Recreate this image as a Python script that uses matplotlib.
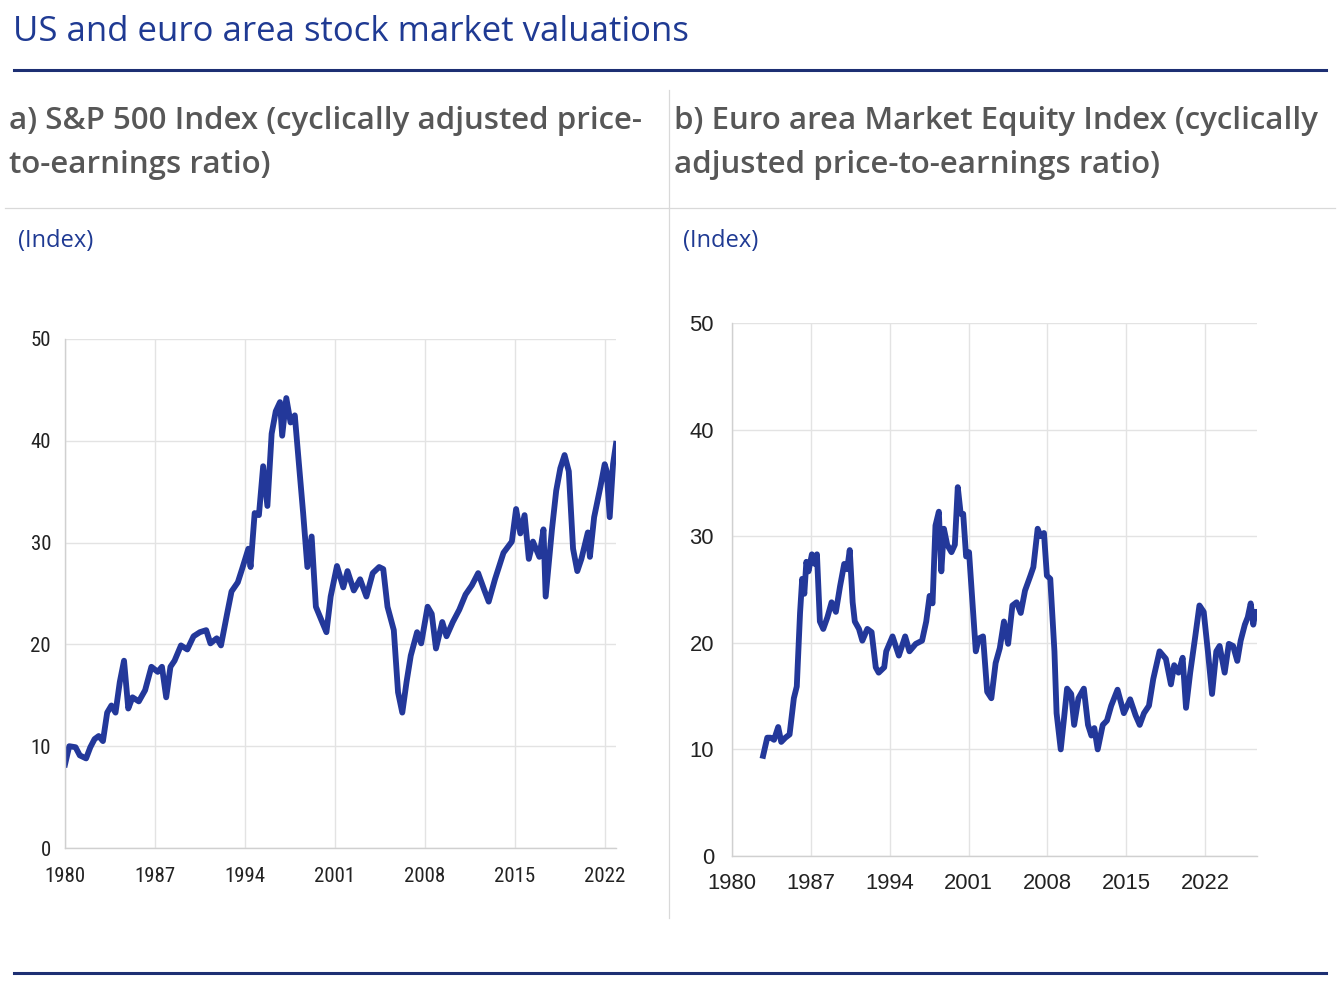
import matplotlib
matplotlib.use("Agg")
import matplotlib.pyplot as plt
from matplotlib.lines import Line2D

# --- data ---
us_years = [1980.00, 1980.33, 1980.82, 1981.15, 1981.64, 1981.97, 1982.30, 1982.62, 1982.95,
            1983.28, 1983.61, 1983.93, 1984.26, 1984.59, 1984.92, 1985.25, 1985.74, 1986.23,
            1986.72, 1987.21, 1987.54, 1987.87, 1988.20, 1988.52, 1989.02, 1989.51, 1990.00,
            1990.49, 1990.98, 1991.31, 1991.80, 1992.13, 1992.62, 1992.95, 1993.44, 1993.77,
            1994.26, 1994.43, 1994.75, 1995.08, 1995.41, 1995.74, 1996.07, 1996.39, 1996.72,
            1996.89, 1997.21, 1997.54, 1997.87, 1998.20, 1998.52, 1998.85, 1999.18, 1999.51,
            2000.00, 2000.33, 2000.66, 2001.15, 2001.64, 2001.97, 2002.46, 2002.95, 2003.44,
            2003.93, 2004.43, 2004.75, 2005.08, 2005.57, 2005.90, 2006.23, 2006.56, 2006.89,
            2007.38, 2007.70, 2008.20, 2008.52, 2008.85, 2009.34, 2009.67, 2010.16, 2010.66,
            2011.15, 2011.64, 2012.13, 2012.62, 2012.95, 2013.44, 2014.10, 2014.75, 2015.08,
            2015.41, 2015.74, 2016.07, 2016.39, 2016.89, 2017.21, 2017.38, 2017.87, 2018.20,
            2018.52, 2018.85, 2019.18, 2019.51, 2019.84, 2020.16, 2020.66, 2020.82, 2021.15,
            2021.64, 2021.97, 2022.13, 2022.36, 2022.62, 2022.85]
us_cape = [8.2, 10.0, 9.9, 9.1, 8.8, 9.9, 10.7, 11.0, 10.5,
           13.3, 14.0, 13.3, 16.3, 18.4, 13.7, 14.8, 14.4, 15.5,
           17.8, 17.3, 17.8, 14.8, 17.8, 18.4, 19.9, 19.5, 20.8,
           21.2, 21.4, 20.1, 20.6, 19.9, 23.1, 25.2, 26.1, 27.4,
           29.4, 27.6, 32.9, 32.7, 37.5, 33.6, 40.7, 42.9, 43.8,
           40.5, 44.2, 41.8, 42.5, 37.6, 32.9, 27.6, 30.6, 23.7,
           22.2, 21.2, 24.7, 27.7, 25.6, 27.2, 25.3, 26.4, 24.7,
           27.0, 27.6, 27.4, 23.7, 21.4, 15.3, 13.3, 16.3, 18.9,
           21.2, 20.1, 23.7, 23.0, 19.6, 22.2, 20.8, 22.2, 23.4,
           24.9, 25.8, 27.0, 25.3, 24.2, 26.4, 29.0, 30.1, 33.3,
           30.9, 32.7, 28.4, 30.1, 28.6, 31.3, 24.7, 31.3, 35.1,
           37.3, 38.6, 37.0, 29.4, 27.2, 28.4, 31.0, 28.6, 32.5,
           35.5, 37.7, 37.0, 32.5, 37.7, 39.7]

ea_years = [1982.76, 1983.13, 1983.43, 1983.73, 1984.10, 1984.37, 1984.74, 1985.11, 1985.49,
            1985.75, 1986.04, 1986.23, 1986.42, 1986.60, 1986.79, 1987.09, 1987.35, 1987.54,
            1987.80, 1988.10, 1988.47, 1988.84, 1989.22, 1989.59, 1989.96, 1990.22, 1990.45,
            1990.71, 1990.90, 1991.27, 1991.57, 1992.01, 1992.39, 1992.76, 1993.02, 1993.51,
            1993.69, 1994.25, 1994.81, 1995.37, 1995.75, 1996.31, 1996.87, 1997.24, 1997.54,
            1997.80, 1998.06, 1998.36, 1998.58, 1998.81, 1999.10, 1999.48, 1999.78, 2000.04,
            2000.30, 2000.52, 2000.78, 2001.04, 2001.27, 2001.64, 2001.90, 2002.28, 2002.65,
            2003.02, 2003.40, 2003.77, 2004.14, 2004.51, 2004.89, 2005.26, 2005.63, 2006.01,
            2006.49, 2006.75, 2007.13, 2007.39, 2007.69, 2007.95, 2008.25, 2008.62, 2008.81,
            2009.18, 2009.48, 2009.74, 2010.11, 2010.37, 2010.75, 2011.23, 2011.60, 2011.90,
            2012.16, 2012.46, 2012.91, 2013.28, 2013.66, 2014.22, 2014.78, 2015.34, 2015.82,
            2016.19, 2016.57, 2017.01, 2017.39, 2017.95, 2018.51, 2018.96, 2019.25, 2019.63,
            2020.00, 2020.30, 2020.67, 2021.12, 2021.49, 2021.87, 2022.24, 2022.61, 2022.99,
            2023.28, 2023.73, 2024.10, 2024.48, 2024.85, 2025.15, 2025.52, 2025.78, 2026.04,
            2026.27, 2026.46, 2026.64]
ea_cape = [9.4, 11.1, 11.1, 10.9, 12.1, 10.7, 11.1, 11.4, 14.8,
           15.9, 22.8, 26.0, 24.6, 27.6, 26.7, 28.3, 27.4, 28.3,
           22.0, 21.3, 22.4, 23.8, 22.9, 25.3, 27.4, 26.9, 28.7,
           23.8, 22.0, 21.3, 20.2, 21.3, 21.0, 17.7, 17.2, 17.7,
           19.2, 20.6, 18.8, 20.6, 19.2, 19.9, 20.2, 22.0, 24.4,
           23.7, 31.0, 32.3, 26.7, 30.7, 29.2, 28.5, 29.2, 34.6,
           32.1, 32.1, 28.1, 28.5, 24.9, 19.2, 20.4, 20.6, 15.4,
           14.8, 18.1, 19.5, 22.0, 19.9, 23.5, 23.8, 22.8, 24.9,
           26.3, 27.1, 30.7, 30.0, 30.3, 26.3, 26.0, 19.2, 13.4,
           10.0, 13.0, 15.7, 15.2, 12.3, 14.8, 15.7, 12.3, 11.3,
           12.0, 10.0, 12.3, 12.7, 14.1, 15.6, 13.4, 14.7, 13.2,
           12.3, 13.4, 14.1, 16.6, 19.2, 18.5, 16.1, 17.9, 17.2,
           18.6, 13.9, 17.2, 20.6, 23.5, 22.9, 19.2, 15.2, 19.2,
           19.7, 17.2, 19.9, 19.7, 18.3, 20.2, 21.7, 22.4, 23.7,
           21.7, 22.9, 22.9]

year_ticks = [1980, 1987, 1994, 2001, 2008, 2015, 2022]
value_ticks = [0, 10, 20, 30, 40, 50]

title = "US and euro area stock market valuations"
sub_a = "a) S&P 500 Index (cyclically adjusted price-\nto-earnings ratio)"
sub_b = "b) Euro area Market Equity Index (cyclically\nadjusted price-to-earnings ratio)"
unit = "(Index)"

NAVY = "#1f3a93"
LINE = "#23389a"
GREY_TXT = "#575757"
GRID = "#e3e3e3"
OPEN = ["Open Sans", "DejaVu Sans"]

W, H = 1341, 985
fig = plt.figure(figsize=(W / 100, H / 100), dpi=100)
fig.patch.set_facecolor("white")


def fx(px):
    return px / W


def fy(py):
    return 1 - py / H


# header / frame decoration
fig.text(fx(13), fy(32), title, fontsize=25, color=NAVY, family=OPEN, va="center", ha="left")
fig.add_artist(Line2D([fx(14), fx(1326)], [fy(70), fy(70)], color="#1d2f73", lw=2.2))
fig.add_artist(Line2D([fx(14), fx(1326)], [fy(973), fy(973)], color="#1d2f73", lw=2.2))
fig.add_artist(Line2D([fx(5), fx(1335)], [fy(208), fy(208)], color="#d9d9d9", lw=0.9))
fig.add_artist(Line2D([fx(669), fx(669)], [fy(90), fy(918)], color="#d9d9d9", lw=0.9))

for x0, txt in ((9, sub_a), (674, sub_b)):
    fig.text(fx(x0), fy(143), txt, fontsize=22.5, color=GREY_TXT, weight="semibold",
             family=OPEN, va="center", ha="left", linespacing=1.58)
for x0 in (18, 683):
    fig.text(fx(x0), fy(241), unit, fontsize=17, color=NAVY, family=OPEN,
             va="center", ha="left")


def style(ax, xmax, tick_family, tick_size, stretch):
    ax.set_xlim(1980, xmax)
    ax.set_ylim(0, 50)
    ax.set_xticks(year_ticks)
    ax.set_yticks(value_ticks)
    ax.grid(True, color=GRID, lw=1.0)
    ax.set_axisbelow(True)
    for s in ("top", "right"):
        ax.spines[s].set_visible(False)
    for s in ("left", "bottom"):
        ax.spines[s].set_color("#d0d0d0")
        ax.spines[s].set_linewidth(1.0)
    ax.tick_params(length=0, labelsize=tick_size, colors="#222222")
    for lab in ax.get_xticklabels() + ax.get_yticklabels():
        lab.set_family(tick_family)
        lab.set_stretch(stretch)


ax1 = fig.add_axes([fx(65), fy(848), fx(616 - 65), (848 - 339) / H])
ax1.plot(us_years, us_cape, color=LINE, lw=4.2, solid_joinstyle="round")
style(ax1, 2022.85, ["Liberation Sans Narrow", "Roboto Condensed", "DejaVu Sans"], 15, "condensed")
ax1.tick_params(axis="y", pad=10)
ax1.tick_params(axis="x", pad=14)

ax2 = fig.add_axes([fx(732), fy(856), fx(1257 - 732), (856 - 323) / H])
ax2.plot(ea_years, ea_cape, color=LINE, lw=4.2, solid_joinstyle="round")
style(ax2, 2026.6, ["Liberation Sans", "DejaVu Sans"], 15.8, "normal")
ax2.tick_params(axis="y", pad=13)
ax2.tick_params(axis="x", pad=12)

fig.savefig("out.png", dpi=100)
